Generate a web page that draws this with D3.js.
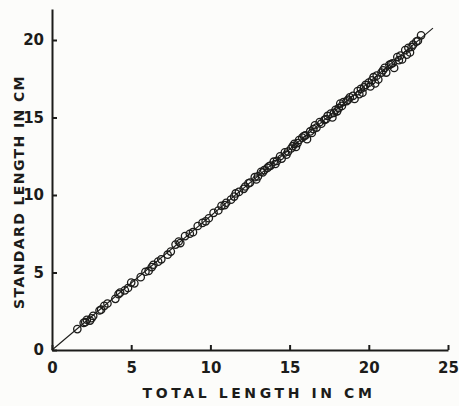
<!DOCTYPE html>
<html>
<head>
<meta charset="utf-8">
<script src="https://cdn.jsdelivr.net/npm/d3@7"></script>
<style>
  body { margin: 0; background: #fcfcfa; }
  svg { display: block; }
  .axis path, .axis line { stroke: #1c1c1a; stroke-width: 2; }
  .axis text { font-family: "DejaVu Sans", sans-serif; font-weight: bold; font-size: 15px; fill: #1c1c1a; }
  .title { font-family: "DejaVu Sans", sans-serif; font-weight: bold; font-size: 14px; fill: #1c1c1a; }
</style>
</head>
<body>
<div id="chart"></div>
<script>
// total length (cm) and standard length (cm) of each fish
var totalLength = [1.6, 2.0, 2.2, 2.4, 2.5, 2.6, 3.1, 3.3, 3.5, 4.0, 4.3, 4.6, 4.8, 5.0, 5.2, 5.6, 5.9, 6.1, 6.4, 6.7,
    6.9, 7.3, 7.5, 7.8, 8.1, 8.4, 8.7, 8.9, 9.2, 9.5, 9.7, 9.9, 10.2, 10.5, 10.7, 11.0, 11.3, 11.6, 11.8, 12.1,
    12.2, 12.5, 12.8, 13.0, 13.2, 13.4, 13.6, 13.8, 14.0, 14.2, 14.4, 14.5, 14.7, 14.9, 15.1, 15.3, 15.5, 15.6, 15.8, 16.0,
    16.1, 16.3, 16.5, 16.7, 16.9, 17.0, 17.2, 17.4, 17.6, 17.7, 17.9, 18.1, 18.3, 18.4, 18.6, 18.8, 19.0, 19.1, 19.3, 19.5,
    19.6, 19.8, 20.0, 20.1, 20.3, 20.5, 20.6, 20.8, 21.0, 21.1, 21.3, 21.5, 21.6, 21.8, 22.0, 22.1, 22.3, 22.5, 22.6, 22.8,
    23.0, 23.3, 10.9, 11.5, 12.9, 13.3, 14.1, 14.8, 15.2, 15.9, 16.6, 17.3, 18.0, 18.7, 19.4, 20.2, 20.9, 21.4, 21.9, 22.4,
    22.7, 23.1, 20.4, 19.7, 18.2, 17.8, 16.4, 15.4, 13.7, 12.4, 8.0, 6.3, 4.2, 2.1, 3.0];
var standardLength = [1.35, 1.75, 1.95, 1.9, 2.05, 2.2, 2.6, 2.85, 3.0, 3.3, 3.7, 3.85, 4.0, 4.35, 4.3, 4.7, 5.05, 5.1, 5.5, 5.7,
    5.85, 6.15, 6.35, 6.8, 6.9, 7.35, 7.5, 7.6, 8.0, 8.2, 8.3, 8.5, 8.85, 9.0, 9.3, 9.5, 9.7, 10.1, 10.2, 10.4,
    10.55, 10.8, 11.15, 11.2, 11.5, 11.6, 11.75, 11.9, 12.15, 12.2, 12.5, 12.35, 12.75, 12.8, 13.0, 13.3, 13.35, 13.55, 13.7, 13.85,
    13.6, 14.1, 14.25, 14.35, 14.7, 14.6, 14.85, 15.1, 15.25, 15.0, 15.5, 15.6, 15.75, 16.0, 16.05, 16.3, 16.4, 16.2, 16.7, 16.85,
    16.6, 17.1, 17.25, 17.0, 17.6, 17.7, 17.45, 17.9, 18.2, 17.9, 18.4, 18.5, 18.2, 18.9, 19.0, 18.75, 19.35, 19.5, 19.2, 19.7,
    19.9, 20.3, 9.35, 9.9, 11.0, 11.45, 12.0, 12.6, 13.15, 13.8, 14.5, 14.9, 15.4, 16.15, 16.5, 17.4, 18.05, 18.45, 18.7, 19.05,
    19.55, 19.95, 17.2, 16.95, 15.9, 15.3, 14.0, 13.1, 11.85, 10.75, 7.0, 5.35, 3.6, 1.8, 2.55];

// fitted line end points
var lineTotal = [0, 24.05];
var lineStandard = [0, 20.77];

var xTicks = [0, 5, 10, 15, 20, 25];
var yTicks = [0, 5, 10, 15, 20];

var width = 459, height = 406;
var mLeft = 52, mRight = 448, mTop = 8, mBottom = 350;

var svg = d3.select("#chart").append("svg")
    .attr("width", width)
    .attr("height", height);

var x = d3.scaleLinear().domain([0, 25]).range([mLeft, mRight]);
var y = d3.scaleLinear().domain([0, 22]).range([mBottom, mTop + 1]);

svg.append("g").attr("class", "axis")
    .attr("transform", "translate(0," + mBottom + ")")
    .call(d3.axisBottom(x).tickValues(xTicks).tickSizeInner(-5).tickSizeOuter(0).tickPadding(12).tickFormat(d3.format("d")));

svg.append("g").attr("class", "axis")
    .attr("transform", "translate(" + mLeft + ",0)")
    .call(d3.axisLeft(y).tickValues(yTicks).tickSizeInner(-5).tickSizeOuter(0).tickPadding(8).tickFormat(d3.format("d")));

var line = d3.line()
    .x(function (d) { return x(d[0]); })
    .y(function (d) { return y(d[1]); });

svg.append("path")
    .attr("d", line(d3.zip(lineTotal, lineStandard)))
    .attr("fill", "none")
    .attr("stroke", "#1c1c1a")
    .attr("stroke-width", 1.1);

svg.selectAll("circle")
    .data(d3.zip(totalLength, standardLength))
    .enter()
    .append("circle")
    .attr("cx", function (d) { return x(d[0]); })
    .attr("cy", function (d) { return y(d[1]); })
    .attr("r", 3.7)
    .attr("fill", "none")
    .attr("stroke", "#1c1c1a")
    .attr("stroke-width", 1.3);

svg.append("text")
    .attr("class", "title")
    .attr("text-anchor", "middle")
    .attr("x", 259)
    .attr("y", 398)
    .style("letter-spacing", "3.6px")
    .text("TOTAL LENGTH IN CM");

svg.append("text")
    .attr("class", "title")
    .attr("text-anchor", "middle")
    .attr("transform", "translate(24,192)rotate(-90)")
    .style("letter-spacing", "1.4px")
    .text("STANDARD LENGTH IN CM");
</script>
</body>
</html>
